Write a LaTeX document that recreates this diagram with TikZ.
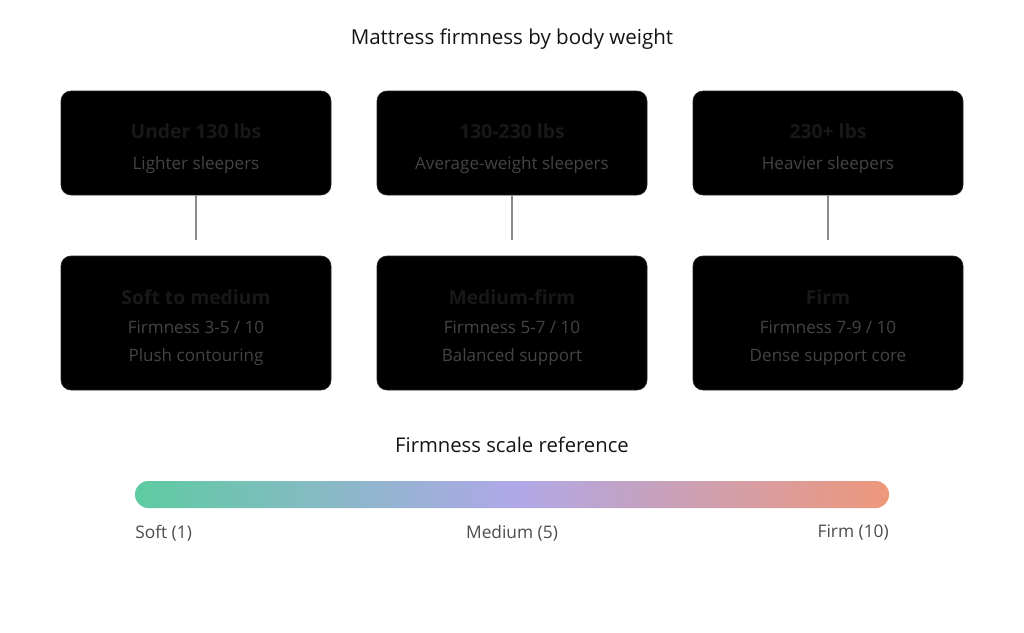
\documentclass[tikz,border=0pt]{standalone}
\usepackage{fontspec}
\setmainfont{Open Sans}
\usetikzlibrary{calc}
\definecolor{boxtitle}{HTML}{181818}
\definecolor{boxtext}{HTML}{444444}
\definecolor{linkgray}{HTML}{8C8C8C}
\definecolor{scalesoft}{HTML}{5ECBA1}
\definecolor{scalemid}{HTML}{AFA8E8}
\definecolor{scalefirm}{HTML}{EE977A}
\tikzset{every node/.style={align=center, inner sep=0pt}}
\tikzset{weightbox/.style={fill=black, draw=black!85, line width=0.5pt, rounded corners=7.5pt, minimum width=202.5pt, minimum height=78pt}}
\tikzset{firmbox/.style={weightbox, minimum height=100.5pt}}
\tikzset{boxhead/.style={font=\fontsize{14.5}{17}\selectfont\bfseries, text=boxtitle}}
\tikzset{boxline/.style={font=\fontsize{12.8}{15}\selectfont, text=boxtext}}
\tikzset{link/.style={linkgray, line width=1.6pt}}
\tikzset{scalelabel/.style={font=\fontsize{13}{15}\selectfont, text=black!70}}

\begin{document}
\begin{tikzpicture}[x=0.75pt, y=-0.75pt]
		\useasboundingbox (0,0) rectangle (1024,632);
		
		% Title
		\node[font=\fontsize{15.4}{18}\selectfont, text=black!92] (title) at (512,39) {Mattress firmness by body weight};
		
		% Weight boxes
		\node[weightbox] (w1) at (196,143) {};
		\node[weightbox] (w2) at (512,143) {};
		\node[weightbox] (w3) at (828,143) {};
		%% Text
		\node[boxhead] (w1h) at (196,131) {Under 130 lbs};
		\node[boxline] (w1s) at (196,165) {Lighter sleepers};
		\node[boxhead] (w2h) at (512,131) {130-230 lbs};
		\node[boxline] (w2s) at (512,165) {Average-weight sleepers};
		\node[boxhead] (w3h) at (828,131) {230+ lbs};
		\node[boxline] (w3s) at (828,165) {Heavier sleepers};
		
		% Firmness boxes
		\node[firmbox] (f1) at (196,323) {};
		\node[firmbox] (f2) at (512,323) {};
		\node[firmbox] (f3) at (828,323) {};
		%% Text
		\node[boxhead] (f1h) at (196,297) {Soft to medium};
		\node[boxline] (f1a) at (196,327) {Firmness 3-5 / 10};
		\node[boxline] (f1b) at (196,357) {Plush contouring};
		\node[boxhead] (f2h) at (512,297) {Medium-firm};
		\node[boxline] (f2a) at (512,327) {Firmness 5-7 / 10};
		\node[boxline] (f2b) at (512,357) {Balanced support};
		\node[boxhead] (f3h) at (828,297) {Firm};
		\node[boxline] (f3a) at (828,327) {Firmness 7-9 / 10};
		\node[boxline] (f3b) at (828,357) {Dense support core};
		
		% Links
		\coordinate (l1) at (196,240);
		\coordinate (l2) at (512,240);
		\coordinate (l3) at (828,240);
		\draw[link] (w1.south) -- (l1);
		\draw[link] (w2.south) -- (l2);
		\draw[link] (w3.south) -- (l3);
		
		% Scale
		\node[font=\fontsize{15.2}{18}\selectfont, text=black!92] (scale) at (512,445) {Firmness scale reference};
		\shade[left color=scalesoft, right color=scalefirm, middle color=scalemid, rounded corners=10pt] (135,481) rectangle (889,508);
		%% Labels
		\node[scalelabel, anchor=west] (soft) at (135,533) {Soft (1)};
		\node[scalelabel] (medium) at (512,533) {Medium (5)};
		\node[scalelabel, anchor=east] (firm) at (889,533) {Firm (10)};
	\end{tikzpicture}
\end{document}
